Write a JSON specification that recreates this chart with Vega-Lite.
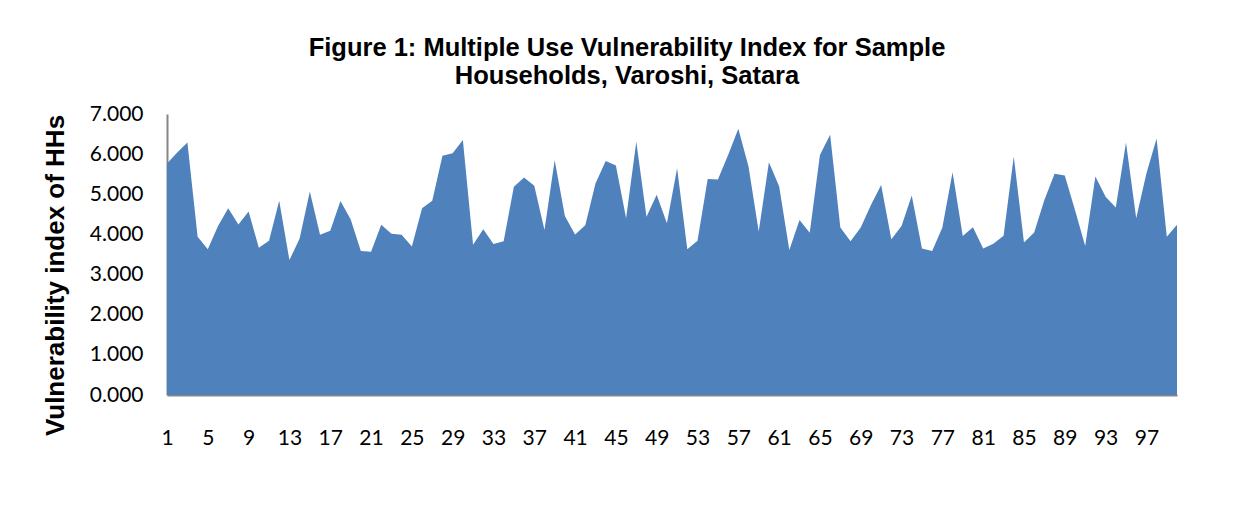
{
  "$schema": "https://vega.github.io/schema/vega-lite/v6.json",
  "autosize": "none",
  "width": 1010,
  "height": 281,
  "padding": {"left": 167, "top": 114, "right": 68, "bottom": 130},
  "background": "white",
  "title": {
    "text": ["Figure 1: Multiple Use Vulnerability Index for Sample", "Households, Varoshi, Satara"],
    "font": "Liberation Sans",
    "fontSize": 25.5,
    "fontWeight": "bold",
    "color": "#000000",
    "anchor": "middle",
    "dx": -45,
    "offset": 14,
    "lineHeight": 28
  },
  "data": {"values": [
    {"hh": 1, "v": 5.77}, {"hh": 2, "v": 6.04}, {"hh": 3, "v": 6.29}, {"hh": 4, "v": 3.94}, {"hh": 5, "v": 3.63},
    {"hh": 6, "v": 4.21}, {"hh": 7, "v": 4.65}, {"hh": 8, "v": 4.25}, {"hh": 9, "v": 4.57}, {"hh": 10, "v": 3.67},
    {"hh": 11, "v": 3.84}, {"hh": 12, "v": 4.84}, {"hh": 13, "v": 3.36}, {"hh": 14, "v": 3.9}, {"hh": 15, "v": 5.07},
    {"hh": 16, "v": 3.99}, {"hh": 17, "v": 4.09}, {"hh": 18, "v": 4.83}, {"hh": 19, "v": 4.38}, {"hh": 20, "v": 3.59},
    {"hh": 21, "v": 3.57}, {"hh": 22, "v": 4.24}, {"hh": 23, "v": 4.02}, {"hh": 24, "v": 3.99}, {"hh": 25, "v": 3.7},
    {"hh": 26, "v": 4.65}, {"hh": 27, "v": 4.84}, {"hh": 28, "v": 5.96}, {"hh": 29, "v": 6.02}, {"hh": 30, "v": 6.35},
    {"hh": 31, "v": 3.74}, {"hh": 32, "v": 4.13}, {"hh": 33, "v": 3.76}, {"hh": 34, "v": 3.83}, {"hh": 35, "v": 5.19},
    {"hh": 36, "v": 5.42}, {"hh": 37, "v": 5.21}, {"hh": 38, "v": 4.11}, {"hh": 39, "v": 5.85}, {"hh": 40, "v": 4.46},
    {"hh": 41, "v": 4.0}, {"hh": 42, "v": 4.23}, {"hh": 43, "v": 5.27}, {"hh": 44, "v": 5.83}, {"hh": 45, "v": 5.72},
    {"hh": 46, "v": 4.4}, {"hh": 47, "v": 6.31}, {"hh": 48, "v": 4.44}, {"hh": 49, "v": 4.99}, {"hh": 50, "v": 4.28},
    {"hh": 51, "v": 5.65}, {"hh": 52, "v": 3.63}, {"hh": 53, "v": 3.84}, {"hh": 54, "v": 5.38}, {"hh": 55, "v": 5.37},
    {"hh": 56, "v": 5.98}, {"hh": 57, "v": 6.63}, {"hh": 58, "v": 5.69}, {"hh": 59, "v": 4.07}, {"hh": 60, "v": 5.8},
    {"hh": 61, "v": 5.2}, {"hh": 62, "v": 3.61}, {"hh": 63, "v": 4.36}, {"hh": 64, "v": 4.04}, {"hh": 65, "v": 5.98},
    {"hh": 66, "v": 6.48}, {"hh": 67, "v": 4.17}, {"hh": 68, "v": 3.83}, {"hh": 69, "v": 4.17}, {"hh": 70, "v": 4.73},
    {"hh": 71, "v": 5.23}, {"hh": 72, "v": 3.88}, {"hh": 73, "v": 4.21}, {"hh": 74, "v": 4.97}, {"hh": 75, "v": 3.65},
    {"hh": 76, "v": 3.59}, {"hh": 77, "v": 4.17}, {"hh": 78, "v": 5.55}, {"hh": 79, "v": 3.96}, {"hh": 80, "v": 4.18},
    {"hh": 81, "v": 3.65}, {"hh": 82, "v": 3.77}, {"hh": 83, "v": 3.97}, {"hh": 84, "v": 5.94}, {"hh": 85, "v": 3.8},
    {"hh": 86, "v": 4.05}, {"hh": 87, "v": 4.86}, {"hh": 88, "v": 5.51}, {"hh": 89, "v": 5.47}, {"hh": 90, "v": 4.61},
    {"hh": 91, "v": 3.71}, {"hh": 92, "v": 5.44}, {"hh": 93, "v": 4.94}, {"hh": 94, "v": 4.67}, {"hh": 95, "v": 6.29},
    {"hh": 96, "v": 4.4}, {"hh": 97, "v": 5.52}, {"hh": 98, "v": 6.39}, {"hh": 99, "v": 3.94}, {"hh": 100, "v": 4.24}
  ]},
  "mark": {"type": "area", "color": "#4F81BD", "opacity": 1, "interpolate": "linear"},
  "encoding": {
    "x": {
      "field": "hh",
      "type": "quantitative",
      "scale": {"domain": [1, 100], "nice": false, "zero": false},
      "axis": {
        "values": [1, 5, 9, 13, 17, 21, 25, 29, 33, 37, 41, 45, 49, 53, 57, 61, 65, 69, 73, 77, 81, 85, 89, 93, 97],
        "title": null,
        "grid": false,
        "ticks": false,
        "domainColor": "#868686",
        "domainWidth": 2,
        "labelFont": "Lato",
        "labelFontSize": 21,
        "labelColor": "#000000",
        "labelPadding": 32,
        "labelFlush": false,
        "labelOverlap": false
      }
    },
    "y": {
      "field": "v",
      "type": "quantitative",
      "scale": {"domain": [0, 7], "nice": false},
      "axis": {
        "values": [0, 1, 2, 3, 4, 5, 6, 7],
        "format": ".3f",
        "title": "Vulnerability index of HHs",
        "titleFont": "Liberation Sans",
        "titleFontSize": 26,
        "titleFontWeight": "bold",
        "titleColor": "#000000",
        "titlePadding": 21,
        "titleY": 161,
        "grid": false,
        "ticks": false,
        "domainColor": "#868686",
        "domainWidth": 2,
        "labelFont": "Lato",
        "labelFontSize": 21,
        "labelColor": "#000000",
        "labelPadding": 24,
        "labelFlush": false
      }
    }
  },
  "config": {"view": {"stroke": null}}
}
